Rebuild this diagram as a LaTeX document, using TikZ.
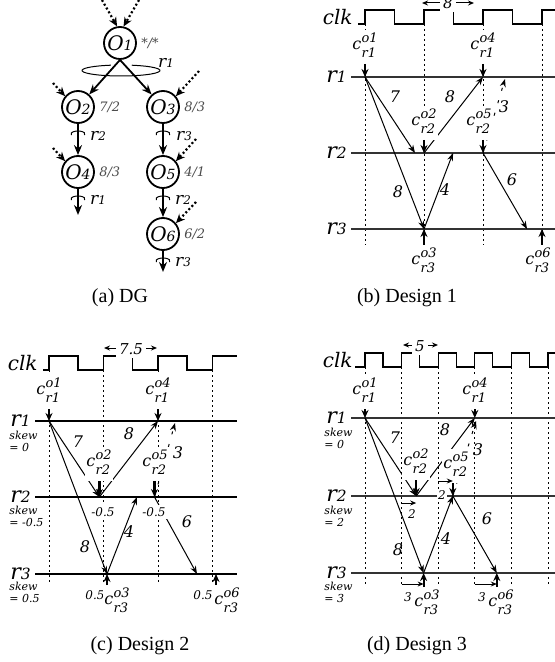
\documentclass[tikz,border=0pt]{standalone}
\usepackage{fontspec}
\setmainfont{Liberation Serif}
\newfontfamily\schfont{DejaVu Serif}
\usetikzlibrary{arrows.meta, positioning, calc}

\makeatletter
\newcommand{\dg}[1]{{\fontsize{\fpeval{0.7*\f@size}}{1}\selectfont #1}}
\makeatother
\newcommand{\fs}[1]{\fontsize{#1}{#1}\selectfont}
\newcommand{\cev}[2]{c\hspace{0.2pt}\raisebox{-4.3pt}{\fontsize{6.5}{7.8}\selectfont
  \begin{tabular}[b]{@{}l@{}}#1\\#2\end{tabular}}}

\begin{document}
\begin{tikzpicture}[x=0.5pt, y=-0.5pt,
  opnode/.style={circle, draw, line width=0.9pt, minimum size=16pt,
    inner sep=0pt, font=\schfont\itshape\fs{10}},
  wlab/.style={font=\schfont\itshape\fs{6.5}, text=black!70, inner sep=1pt},
  llab/.style={font=\schfont\itshape\fs{8.5}, inner sep=1pt},
  dep/.style={-{Stealth[length=5pt,width=4pt]}, line width=0.9pt},
  extin/.style={-{Stealth[length=4.5pt,width=4pt]}, line width=1.1pt,
    dash pattern=on 1pt off 1.2pt},
  rloop/.style={line width=0.5pt},
  rhook/.pic={\draw[rloop] (20:7 and 3) arc[start angle=20, end angle=-200,
    x radius=7, y radius=3];},
  clkwave/.style={line width=0.55pt},
  clklab/.style={font=\schfont\itshape\fs{10}, inner sep=1pt},
  slot/.style={line width=0.5pt, dash pattern=on 1pt off 1.5pt},
  rail/.style={line width=0.6pt, black!80},
  raillab/.style={font=\schfont\itshape\fs{11}, inner sep=1pt},
  msg/.style={-{Stealth[length=4pt,width=3pt]}, line width=0.5pt},
  waitarr/.style={-{Stealth[length=4pt,width=3pt]}, line width=0.5pt,
    dash pattern=on 1.5pt off 5pt},
  evt/.style={-{Stealth[length=4pt,width=3.5pt]}, line width=1.1pt},
  skw/.style={-{Stealth[length=3pt,width=2.5pt]}, line width=0.5pt},
  clkper/.style={{Stealth[length=3pt,width=2.5pt]}-{Stealth[length=3pt,width=2.5pt]},
    line width=0.5pt},
  perlab/.style={font=\schfont\itshape\fs{7.5}, fill=white, inner sep=1.5pt},
  cevlab/.style={font=\schfont\itshape\fs{8}, fill=white, inner sep=0.5pt},
  wnum/.style={font=\schfont\itshape\fs{8}, inner sep=1pt},
  sknote/.style={font=\schfont\itshape\fontsize{5.5}{6}\selectfont, align=left,
    inner sep=0pt, anchor=north west},
  offs/.style={font=\schfont\itshape\fs{6}, inner sep=1pt},
  capt/.style={font=\fs{10}}
]
\useasboundingbox (0,0) rectangle (555,662);

% ── (a) DG ──
\node[opnode] (o1) at (120,43)  {O\dg{1}};
\node[opnode] (o2) at (78,107)  {O\dg{2}};
\node[opnode] (o3) at (163,107) {O\dg{3}};
\node[opnode] (o4) at (78,172)  {O\dg{4}};
\node[opnode] (o5) at (163,172) {O\dg{5}};
\node[opnode] (o6) at (163,234) {O\dg{6}};
\node[wlab, right=1pt of o1] (w1) {*/*};
\node[wlab, right=1pt of o2] (w2) {7/2};
\node[wlab, right=1pt of o3] (w3) {8/3};
\node[wlab, right=1pt of o4] (w4) {8/3};
\node[wlab, right=1pt of o5] (w5) {4/1};
\node[wlab, right=1pt of o6] (w6) {6/2};
\coordinate (x4) at (78,215);
\coordinate (x6) at (163,272);
\draw[dep] (o1.south) -- (o2);
\draw[dep] (o1.south) -- (o3);
\draw[dep] (o2) -- (o4);
\draw[dep] (o3) -- (o5);
\draw[dep] (o5) -- (o6);
\draw[dep] (o4) -- (x4);
\draw[dep] (o6) -- (x6);
% external inputs
\coordinate (s1a) at (102,0);
\coordinate (s1b) at (139,0);
\coordinate (s2) at (53,83);
\coordinate (s3) at (199,71);
\coordinate (s4) at (53,148);
\coordinate (s5) at (196,139);
\coordinate (s6) at (196,202);
\draw[extin] (s1a) -- (o1.100);
\draw[extin] (s1b) -- (o1.78);
\draw[extin] (s2) -- (o2.140);
\draw[extin] (s3) -- (o3.40);
\draw[extin] (s4) -- (o4.140);
\draw[extin] (s5) -- (o5.40);
\draw[extin] (s6) -- (o6.40);
% resource loops
\draw[rloop] (121,70.5) ++(-74:39 and 5.5)
  arc[start angle=-74, end angle=255, x radius=39, y radius=5.5];
\node[llab] (l1) at (166,63) {r\dg{1}};
\pic at (78,134)  {rhook};
\pic at (163,134) {rhook};
\pic at (78,199)  {rhook};
\pic at (163,199) {rhook};
\pic at (163,261) {rhook};
\node[llab] (l2) at (98,136)  {r\dg{2}};
\node[llab] (l3) at (184,136) {r\dg{3}};
\node[llab] (l4) at (98,200)  {r\dg{1}};
\node[llab] (l5) at (183,200) {r\dg{2}};
\node[llab] (l6) at (183,262) {r\dg{3}};
\node[capt] (capa) at (120,298) {(a) DG};

% ── (b) Design 1 ──
\node[clklab, anchor=base east] (b-clk) at (355,25) {clk};
\draw[clkwave] (358,24) foreach \t in {365,424,483} { -- (\t,24) -- (\t,10)
  -- ({\t+29.5},10) -- ({\t+29.5},24) } -- (542,24) -- (542,10) -- (555,10);
\foreach \t in {365,424,483,542} \draw[slot] (\t,24) -- (\t,245);
\coordinate (b-p0) at (422,3);
\coordinate (b-p1) at (474,3);
\draw[clkper] (b-p0) -- (b-p1);
\node[perlab] (b-per) at (448,3) {8};
\foreach \n/\y in {1/77,2/153,3/229} {
  \coordinate (b-r\n) at (351,\y);
  \coordinate (b-e\n) at (555,\y);
  \draw[rail] (b-r\n) -- (b-e\n);
  \node[raillab, left=1pt of b-r\n] (b-l\n) {r\dg{\n}};
}
\coordinate (b1) at (365,77);
\coordinate (b4) at (483,77);
\coordinate (b2) at (424,153);
\coordinate (b5) at (483,153);
\coordinate (b3) at (424,229);
\coordinate (b6) at (542,229);
\coordinate (b2a) at (415,153);
\coordinate (b5a) at (453,153);
\coordinate (b6a) at (527,229);
\coordinate (b3w) at (505,79);
\draw[msg] (b1) -- (b2a);
\draw[msg] (b1) -- (b3);
\draw[msg] (b2) -- (b4);
\draw[msg] (b3) -- (b5a);
\draw[msg] (b5) -- (b6a);
\draw[waitarr] (b5) -- (b3w);
\node[wnum] (b-w7)  at (395,97)  {7};
\node[wnum] (b-w8a) at (398,192) {8};
\node[wnum] (b-w8b) at (450,97)  {8};
\node[wnum] (b-w4)  at (445,190) {4};
\node[wnum] (b-w6)  at (512,180) {6};
\node[wnum] (b-w3)  at (504,107) {3};
\node[cevlab] (b-c1) at (365,47)  {\cev{o1}{r1}};
\node[cevlab] (b-c4) at (483,47)  {\cev{o4}{r1}};
\node[cevlab] (b-c2) at (424,123) {\cev{o2}{r2}};
\node[cevlab] (b-c5) at (479,123) {\cev{o5}{r2}};
\node[cevlab] (b-c3) at (424,262) {\cev{o3}{r3}};
\node[cevlab] (b-c6) at (538,262) {\cev{o6}{r3}};
\draw[evt] (b1 |- b-c1.south) -- (b1);
\draw[evt] (b4 |- b-c4.south) -- (b4);
\draw[evt] (b2 |- b-c2.south) -- (b2);
\draw[evt] (b5 |- b-c5.south) -- (b5);
\draw[evt] (b3 |- b-c3.north) -- (b3);
\draw[evt] (b6 |- b-c6.north) -- (b6);
\node[capt] (capb) at (407,298) {(b) Design 1};

% ── (c) Design 2 ──
\node[clklab, anchor=base east] (c-clk) at (40,370.5) {clk};
\draw[clkwave] (43,370) foreach \t in {49,103.5,158} { -- (\t,370) -- (\t,356)
  -- ({\t+29},356) -- ({\t+29},370) } -- (212.5,370) -- (212.5,356) -- (237,356);
\foreach \t in {49,103.5,158,212.5} \draw[slot] (\t,370) -- (\t,585);
\coordinate (c-p0) at (104,348);
\coordinate (c-p1) at (157,348);
\draw[clkper] (c-p0) -- (c-p1);
\node[perlab] (c-per) at (131,349) {7.5};
\foreach \n/\y in {1/421,2/497,3/574} {
  \coordinate (c-r\n) at (35,\y);
  \coordinate (c-e\n) at (237,\y);
  \draw[rail, black] (c-r\n) -- (c-e\n);
  \node[raillab, left=1pt of c-r\n] (c-l\n) {r\dg{\n}};
}
\node[sknote] (c-k1) at (9,431) {skew\\= 0};
\node[sknote] (c-k2) at (9,506) {skew\\= -0.5};
\node[sknote] (c-k3) at (9,582) {skew\\= 0.5};
\coordinate (c1) at (49,421);
\coordinate (c4) at (158,421);
\coordinate (c2) at (99.4,497);
\coordinate (c5) at (154.5,497);
\coordinate (c3) at (107,574);
\coordinate (c6) at (216,574);
\coordinate (c5a) at (137,497);
\coordinate (c6a) at (197,574);
\coordinate (c4w) at (175,423);
\draw[msg] (c1) -- (c2);
\draw[msg] (c1) -- (c3);
\draw[msg] (c2) -- (c4);
\draw[msg] (c3) -- (c5a);
\draw[msg] (c5) -- (c6a);
\draw[waitarr] (c5) -- (c4w);
\node[wnum] (c-w7)  at (78,442)  {7};
\node[wnum] (c-w8a) at (85,547)  {8};
\node[wnum] (c-w8b) at (129,434) {8};
\node[wnum] (c-w4)  at (129,532) {4};
\node[wnum] (c-w6)  at (187,522) {6};
\node[wnum] (c-w3)  at (178,453) {3};
\node[offs, fill=white] (c-o2) at (103,512) {-0.5};
\node[offs, fill=white] (c-o5) at (154,512) {-0.5};
\node[offs] (c-o3) at (95,595)  {0.5};
\node[offs] (c-o6) at (203,595) {0.5};
\node[cevlab] (c-c1) at (49,392)  {\cev{o1}{r1}};
\node[cevlab] (c-c4) at (158,392) {\cev{o4}{r1}};
\node[cevlab] (c-c2) at (99,464)  {\cev{o2}{r2}};
\node[cevlab] (c-c5) at (155,464) {\cev{o5}{r2}};
\node[cevlab] (c-c3) at (117,602) {\cev{o3}{r3}};
\node[cevlab] (c-c6) at (227,602) {\cev{o6}{r3}};
\draw[evt] (c1 |- c-c1.south) -- (c1);
\draw[evt] (c4 |- c-c4.south) -- (c4);
\draw[evt] (c2 |- c-c2.south) -- (c2);
\draw[evt] (c5 |- c-c5.south) -- (c5);
\draw[evt] (c3 |- c-c3.north) -- (c3);
\draw[evt] (c6 |- c-c6.north) -- (c6);
\node[capt] (capc) at (140,646) {(c) Design 2};

% ── (d) Design 3 ──
\node[clklab, anchor=base east] (d-clk) at (355,367.5) {clk};
\draw[clkwave] (355,367) foreach \t in {365,401.6,438.2,474.8,511.4} { -- (\t,367)
  -- (\t,353) -- ({\t+18},353) -- ({\t+18},367) } -- (548,367) -- (548,353) -- (555,353);
\foreach \t in {365,401.6,438.2,474.8,511.4,548} \draw[slot] (\t,367) -- (\t,586);
\coordinate (d-p0) at (403,345);
\coordinate (d-p1) at (438,345);
\draw[clkper] (d-p0) -- (d-p1);
\node[perlab] (d-per) at (420,346) {5};
\foreach \n/\y in {1/418,2/496,3/573} {
  \coordinate (d-r\n) at (351,\y);
  \coordinate (d-e\n) at (555,\y);
  \draw[rail] (d-r\n) -- (d-e\n);
  \node[raillab, left=1pt of d-r\n] (d-l\n) {r\dg{\n}};
}
\node[sknote] (d-k1) at (324,428) {skew\\= 0};
\node[sknote] (d-k2) at (324,506) {skew\\= 2};
\node[sknote] (d-k3) at (324,582) {skew\\= 3};
\coordinate (d1) at (365,418);
\coordinate (d4) at (474.8,418);
\coordinate (d2) at (416.2,496);
\coordinate (d5) at (452.8,496);
\coordinate (d3) at (423.6,573);
\coordinate (d6) at (496.8,573);
\coordinate (d4w) at (476,421);
\draw[msg] (d1) -- (d2);
\draw[msg] (d1) -- (d3);
\draw[msg] (d2) -- (d4);
\draw[msg] (d3) -- (d5);
\draw[msg] (d5) -- (d6);
\draw[waitarr] (d5) -- (d4w);
\node[wnum] (d-w7)  at (395,438) {7};
\node[wnum] (d-w8a) at (398,550) {8};
\node[wnum] (d-w8b) at (445,430) {8};
\node[wnum] (d-w4)  at (446,539) {4};
\node[wnum] (d-w6)  at (487,519) {6};
\node[wnum] (d-w3)  at (478,450) {3};
\node[cevlab] (d-c1) at (365,392) {\cev{o1}{r1}};
\node[cevlab] (d-c4) at (475,392) {\cev{o4}{r1}};
\node[cevlab] (d-c2) at (416,463) {\cev{o2}{r2}};
\node[cevlab] (d-c5) at (456,466) {\cev{o5}{r2}};
\node[cevlab] (d-c3) at (427,604) {\cev{o3}{r3}};
\node[cevlab] (d-c6) at (501,604) {\cev{o6}{r3}};
\draw[evt] (d1 |- d-c1.south) -- (d1);
\draw[evt] (d4 |- d-c4.south) -- (d4);
\draw[evt] (d2 |- d-c2.south) -- (d2);
\draw[evt] (d5 |- d-c5.south) -- (d5);
\draw[evt] (d3 |- d-c3.north) -- (d3);
\draw[evt] (d6 |- d-c6.north) -- (d6);
% skew shifts
\coordinate (d-s2a) at (401.6,503);
\coordinate (d-s2b) at (416.2,503);
\coordinate (d-s5a) at (438.2,481);
\coordinate (d-s5b) at (452.8,481);
\coordinate (d-s3a) at (401.6,584);
\coordinate (d-s3b) at (423.6,584);
\coordinate (d-s6a) at (474.8,584);
\coordinate (d-s6b) at (496.8,584);
\draw[skw] (d-s2a) -- (d-s2b);
\draw[skw] (d-s5a) -- (d-s5b);
\draw[skw] (d-s3a) -- (d-s3b);
\draw[skw] (d-s6a) -- (d-s6b);
\node[offs] (d-o2) at (412,514) {2};
\node[offs, fill=white, inner sep=0.5pt] (d-o5) at (442,495) {2};
\node[offs] (d-o3) at (408,597) {3};
\node[offs] (d-o6) at (482,597) {3};
\node[capt] (capd) at (417,646) {(d) Design 3};
\end{tikzpicture}
\end{document}
